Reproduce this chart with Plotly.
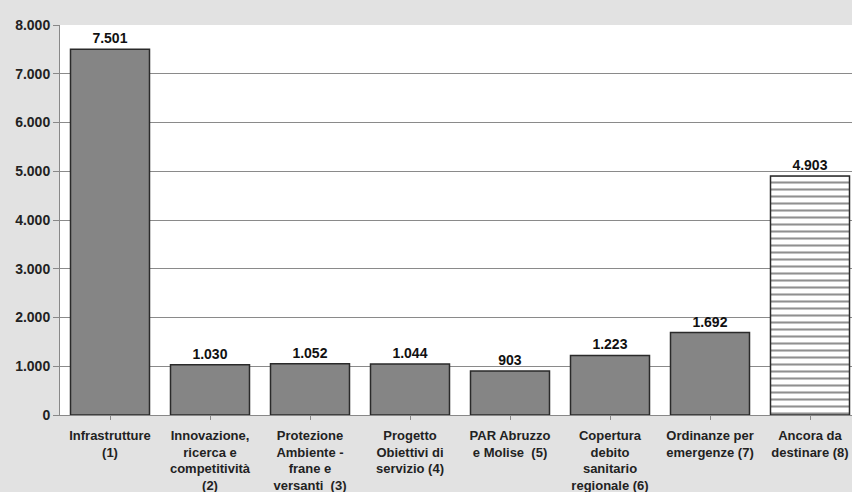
import plotly.graph_objects as go

categories = [
    "Infrastrutture<br>(1)",
    "Innovazione,<br>ricerca e<br>competitività<br>(2)",
    "Protezione<br>Ambiente -<br>frane e<br>versanti  (3)",
    "Progetto<br>Obiettivi di<br>servizio (4)",
    "PAR Abruzzo<br>e Molise  (5)",
    "Copertura<br>debito<br>sanitario<br>regionale (6)",
    "Ordinanze per<br>emergenze (7)",
    "Ancora da<br>destinare (8)",
]
values = [7501, 1030, 1052, 1044, 903, 1223, 1692, 4903]
value_labels = ["7.501", "1.030", "1.052", "1.044", "903", "1.223", "1.692", "4.903"]
y_ticks = [0, 1000, 2000, 3000, 4000, 5000, 6000, 7000, 8000]
y_tick_labels = ["0", "1.000", "2.000", "3.000", "4.000", "5.000", "6.000", "7.000", "8.000"]

FONT = "Liberation Sans, Arial"
x_idx = list(range(len(categories)))
fig = go.Figure()
fig.add_trace(go.Bar(
    x=x_idx[:-1], y=values[:-1], width=0.79,
    marker=dict(color="#858585", line=dict(color="#2a2a2a", width=1.5)),
    text=value_labels[:-1], textposition="outside", cliponaxis=False,
    textfont=dict(family=FONT, size=14, color="#111111", weight="bold"),
))
fig.add_trace(go.Bar(
    x=x_idx[-1:], y=values[-1:], width=0.79,
    marker=dict(color="white", line=dict(color="#2a2a2a", width=1.5),
                pattern=dict(shape="-", fgcolor="#222222", bgcolor="white", size=7, solidity=0.3)),
    text=value_labels[-1:], textposition="outside", cliponaxis=False,
    textfont=dict(family=FONT, size=14, color="#111111", weight="bold"),
))

fig.update_layout(
    width=852, height=492,
    margin=dict(l=60, r=0, t=25, b=77),
    paper_bgcolor="#e2e2e2", plot_bgcolor="white",
    showlegend=False, bargap=0.2,
    font=dict(family=FONT, color="#222222"),
)
fig.update_xaxes(
    range=[-0.5, 7.42], tickmode="array", tickvals=x_idx, ticktext=categories,
    tickfont=dict(size=13, color="#222222", weight="bold"), showgrid=False,
    showline=True, linecolor="#888888", linewidth=1,
    ticks="outside", tickson="boundaries", ticklen=4, tickcolor="#888888",
    ticklabelstandoff=4, tickangle=0, automargin=False,
)
fig.update_yaxes(
    range=[0, 8000], tickmode="array", tickvals=y_ticks, ticktext=y_tick_labels,
    tickfont=dict(size=14, color="#222222", weight="bold"),
    showgrid=True, gridcolor="#8a8a8a", gridwidth=1,
    showline=True, linecolor="#888888", linewidth=1,
    ticks="outside", ticklen=6, tickcolor="#888888", zeroline=False,
    automargin=False,
)

fig.write_html(
    "out.html",
    config={"displayModeBar": False},
    post_script="document.body.style.margin='0';document.body.style.padding='0';",
)
